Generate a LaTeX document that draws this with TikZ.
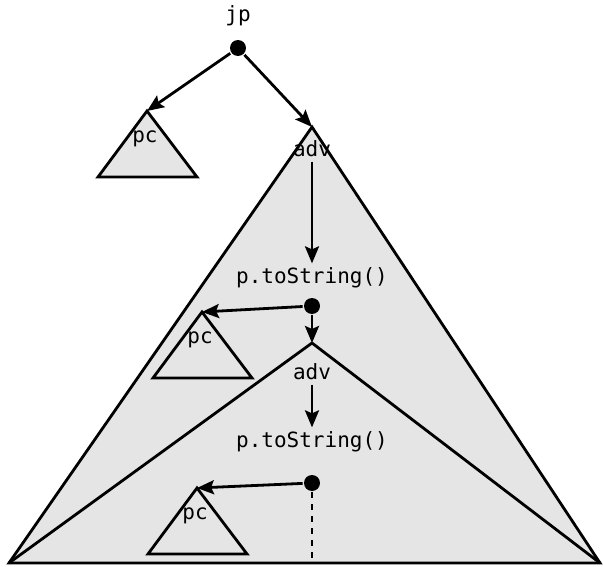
\documentclass[tikz,border=0pt]{standalone}
\usepackage{fontspec}
\setmonofont{DejaVu Sans Mono}
\usetikzlibrary{arrows.meta,positioning}

\begin{document}
\begin{tikzpicture}[x=1pt, y=-1pt, line width=2.8pt,
  lbl/.style={font=\fontsize{21}{21}\selectfont\ttfamily, inner sep=3pt},
  dot/.style={circle, fill, inner sep=0pt, minimum size=16pt},
  tri/.style={draw, fill=gray!20, line join=miter},
  arr/.style={-{Stealth[length=17pt,width=14pt,inset=3pt]}}]
\useasboundingbox (0,0) rectangle (603,567);

% big triangles
\coordinate (L) at (9,563);
\coordinate (R) at (600,563);
\coordinate (T1) at (312,127);
\coordinate (T2) at (312,343);
\draw[tri] (L) -- (T1) -- (R) -- cycle;
\draw (L) -- (T2) -- (R);

% small pc triangles
\coordinate (P1) at (147,111);
\coordinate (P2) at (202,312);
\coordinate (P3) at (197,488);
\draw[tri] (P1) -- ++(-49,66) -- ++(99,0) -- cycle;
\draw[tri] (P2) -- ++(-49,66) -- ++(99,0) -- cycle;
\draw[tri] (P3) -- ++(-49,66) -- ++(99,0) -- cycle;
\node[lbl] (pc1) at (145,139) {pc};
\node[lbl] (pc2) at (200,340) {pc};
\node[lbl] (pc3) at (195,516) {pc};

\node[lbl] (jp) at (238,16) {jp};
\node[dot] (d0) at (238,48) {};
\node[lbl] (adv1) at (312,149) {adv};
\node[lbl] (ts1) at (312,278) {p.toString()};
\node[dot] (d1) at (312,306) {};
\node[lbl] (adv2) at (312,372) {adv};
\node[lbl] (ts2) at (312,442) {p.toString()};
\node[dot] (d2) at (312,483) {};
\coordinate (B) at (312,563);

\draw[arr] (d0) -- (P1);
\draw[arr] (d0) -- (T1);
\draw[arr] (adv1) -- (ts1);
\draw[arr] (d1) -- (P2);
\draw[arr] (d1) -- (T2);
\draw[arr] (adv2) -- (ts2);
\draw[arr] (d2) -- (P3);
\draw[dash pattern=on 6pt off 6pt] (d2) -- (B);
\draw (L) -- (R);
\end{tikzpicture}
\end{document}
